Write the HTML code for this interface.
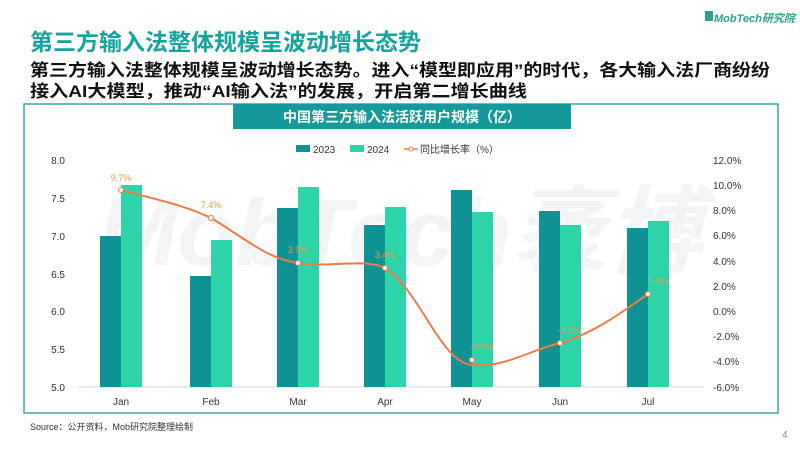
<!DOCTYPE html>
<html><head><meta charset="utf-8"><style>
body{margin:0;width:800px;height:450px;background:#fff;overflow:hidden;font-family:"Liberation Sans","Noto Sans CJK SC",sans-serif;}
</style></head><body>
<svg width="800" height="450" xmlns="http://www.w3.org/2000/svg" font-family="Liberation Sans, Noto Sans CJK SC, sans-serif">
<rect x="705" y="11" width="8" height="10" fill="#2aa58a"/>
<text x="714" y="22" font-size="11" font-weight="bold" font-style="italic" fill="#2aa58a">MobTech研究院</text>
<text x="30" y="50" font-size="23" font-weight="bold" fill="#15a3a0">第三方输入法整体规模呈波动增长态势</text>
<text x="30" y="76" font-size="17" font-weight="bold" fill="#111" textLength="740" lengthAdjust="spacingAndGlyphs">第三方输入法整体规模呈波动增长态势。进入“模型即应用”的时代，各大输入法厂商纷纷</text>
<text x="30" y="97" font-size="17" font-weight="bold" fill="#111" textLength="497" lengthAdjust="spacingAndGlyphs">接入AI大模型，推动“AI输入法”的发展，开启第二增长曲线</text>
<rect x="24" y="104" width="754" height="309" fill="none" stroke="#3aa8a8" stroke-width="1.5"/>
<rect x="233" y="104" width="338" height="25" fill="#15999a"/>
<text x="402" y="122" font-size="14" font-weight="bold" fill="#fff" text-anchor="middle">中国第三方输入法活跃用户规模（亿）</text>
<text x="400" y="265" font-size="95" font-weight="bold" font-style="italic" fill="#f3f4f6" text-anchor="middle">MobTech袤博</text>
<rect x="296" y="145" width="14" height="7" fill="#0e9294"/><text x="313" y="153" font-size="10" fill="#333">2023</text>
<rect x="350" y="145" width="14" height="7" fill="#2dd4a8"/><text x="367" y="153" font-size="10" fill="#333">2024</text>
<line x1="404" y1="149" x2="418" y2="149" stroke="#f07a48" stroke-width="1.5"/><circle cx="411" cy="149" r="2" fill="#fff" stroke="#f07a48"/>
<text x="420" y="153" font-size="10" fill="#333">同比增长率（%）</text>
<g font-size="10" fill="#333" text-anchor="end">
<text x="65" y="164">8.0</text><text x="65" y="202">7.5</text><text x="65" y="240">7.0</text><text x="65" y="278">6.5</text><text x="65" y="315">6.0</text><text x="65" y="353">5.5</text><text x="65" y="391">5.0</text>
</g>
<g font-size="10" fill="#333">
<text x="713" y="164">12.0%</text><text x="713" y="189">10.0%</text><text x="713" y="214">8.0%</text><text x="713" y="239">6.0%</text><text x="713" y="265">4.0%</text><text x="713" y="290">2.0%</text><text x="713" y="315">0.0%</text><text x="713" y="340">-2.0%</text><text x="713" y="365">-4.0%</text><text x="713" y="391">-6.0%</text>
</g>
<line x1="78" y1="387" x2="704" y2="387" stroke="#d9d9d9"/>
<g fill="#0e9294">
<rect x="100" y="236" width="21" height="151"/><rect x="190" y="276" width="21" height="111"/><rect x="277" y="208" width="21" height="179"/><rect x="364" y="225" width="21" height="162"/><rect x="451" y="190" width="21" height="197"/><rect x="539" y="211" width="21" height="176"/><rect x="627" y="228" width="21" height="159"/>
</g>
<g fill="#2dd4a8">
<rect x="121" y="185" width="21" height="202"/><rect x="211" y="240" width="21" height="147"/><rect x="298" y="187" width="21" height="200"/><rect x="385" y="207" width="21" height="180"/><rect x="472" y="212" width="21" height="175"/><rect x="560" y="225" width="21" height="162"/><rect x="648" y="221" width="21" height="166"/>
</g>
<path d="M121,190 C150,198 185,205 211,218 C245,238 265,258 298,263 C330,268 365,258 385,268 C420,290 440,362 472,365 C505,368 530,350 560,343 C595,333 625,310 648,294" fill="none" stroke="#f07a48" stroke-width="2"/>
<g fill="#fff" stroke="#f07a48" stroke-width="1">
<circle cx="121" cy="190" r="2.5"/><circle cx="211" cy="218" r="2.5"/><circle cx="298" cy="263" r="2.5"/><circle cx="385" cy="268" r="2.5"/><circle cx="472" cy="360" r="2.5"/><circle cx="560" cy="343" r="2.5"/><circle cx="648" cy="294" r="2.5"/>
</g>
<g font-size="9" fill="#e39a5a" text-anchor="middle">
<text x="121" y="181">9.7%</text><text x="211" y="208">7.4%</text><text x="298" y="253">3.9%</text><text x="385" y="258">3.4%</text><text x="482" y="350">-3.9%</text><text x="569" y="333">-2.5%</text><text x="658" y="284">1.4%</text>
</g>
<g font-size="10" fill="#333" text-anchor="middle">
<text x="121" y="405">Jan</text><text x="211" y="405">Feb</text><text x="298" y="405">Mar</text><text x="385" y="405">Apr</text><text x="472" y="405">May</text><text x="560" y="405">Jun</text><text x="648" y="405">Jul</text>
</g>
<text x="30" y="430" font-size="9" fill="#333">Source：公开资料，Mob研究院整理绘制</text>
<text x="782" y="438" font-size="10" fill="#888">4</text>
</svg>
</body></html>
